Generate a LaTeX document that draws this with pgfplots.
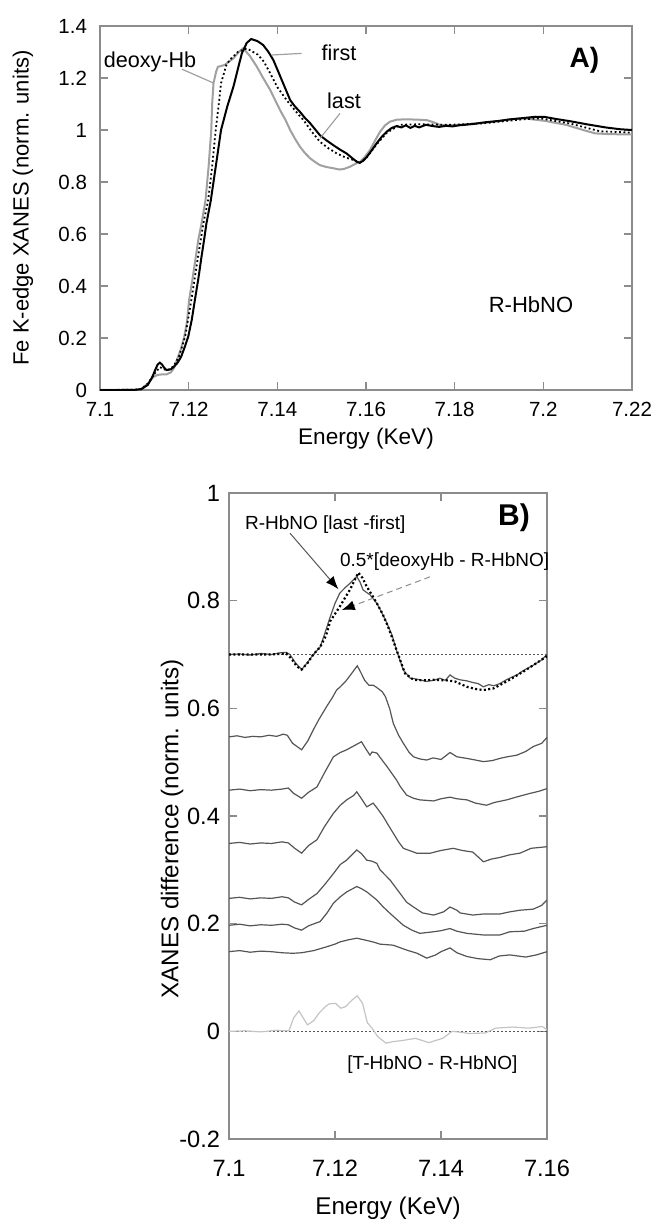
\documentclass[border=0pt]{standalone}
\usepackage{fontspec}
\setmainfont{Liberation Sans}
\usepackage{pgfplots}
\pgfplotsset{compat=1.18}
\usetikzlibrary{arrows.meta}

\definecolor{axgray}{HTML}{8C8C8C}
\definecolor{curvgray}{HTML}{A0A0A0}
\definecolor{diffgray}{HTML}{555555}
\definecolor{tgray}{HTML}{C4C4C4}

\pgfplotsset{
  xanes/.style={
    scale only axis,
    anchor=south west,
    axis line style={axgray, line width=0.7pt},
    tick style={axgray, line width=0.7pt},
    major tick length=4pt,
    tick align=inside,
  },
}

\begin{document}
\begin{tikzpicture}
\useasboundingbox (0,0) rectangle (328.5pt,-611pt);

% ---------------- panel A ----------------
\begin{axis}[xanes,
  at={(50pt,-195pt)}, width=266pt, height=182pt,
  xmin=7.1, xmax=7.22, ymin=0, ymax=1.4,
  xtick={7.1,7.12,7.14,7.16,7.18,7.2,7.22},
  xticklabels={7.1,7.12,7.14,7.16,7.18,7.2,7.22},
  ytick={0,0.2,0.4,0.6,0.8,1,1.2,1.4},
  yticklabels={0,0.2,0.4,0.6,0.8,1,1.2,1.4},
  ticklabel style={font=\fontsize{10.25}{12}\selectfont},
  xticklabel style={yshift=-2.5pt},
  yticklabel style={xshift=-3pt},
]
% deoxy-Hb
\addplot[curvgray, line width=1pt] coordinates {
(7.1000,0.000)(7.1080,0.001)(7.1093,0.004)(7.1108,0.025)(7.1120,0.050)
(7.1130,0.058)(7.1140,0.060)(7.1150,0.060)(7.1160,0.068)(7.1167,0.085)
(7.1176,0.128)(7.1183,0.16)(7.1190,0.205)(7.1196,0.26)(7.1201,0.346)
(7.1208,0.42)(7.1215,0.50)(7.1222,0.58)(7.1229,0.640)(7.1238,0.73)
(7.1245,0.86)(7.1251,1.0)(7.1253,1.10)(7.1256,1.18)(7.1262,1.225)
(7.1266,1.243)(7.1281,1.25)(7.1301,1.276)(7.1313,1.300)(7.1323,1.314)
(7.1338,1.285)(7.1354,1.243)(7.1368,1.200)(7.1384,1.154)(7.1395,1.115)
(7.1406,1.077)(7.1418,1.04)(7.1429,1.0)(7.1440,0.966)(7.1451,0.936)
(7.1462,0.912)(7.1474,0.891)(7.1486,0.876)(7.1496,0.865)(7.1510,0.858)
(7.1526,0.853)(7.1540,0.848)(7.1550,0.850)(7.1564,0.859)(7.1576,0.870)
(7.1587,0.878)(7.1598,0.898)(7.1609,0.923)(7.1620,0.958)(7.1632,0.994)
(7.1643,1.018)(7.1654,1.032)(7.1670,1.040)(7.1692,1.041)(7.1715,1.040)
(7.1737,1.038)(7.1752,1.030)(7.1767,1.019)(7.1790,1.018)(7.1812,1.020)
(7.1850,1.026)(7.1880,1.030)(7.1920,1.040)(7.1956,1.045)(7.2004,1.035)
(7.2051,1.020)(7.2090,1.000)(7.2117,0.987)(7.2150,0.984)(7.2200,0.983)
};
% first
\addplot[black, line width=1pt] coordinates {
(7.1000,0.000)(7.1050,0.000)(7.1080,0.001)(7.1093,0.003)(7.1108,0.02)
(7.1118,0.05)(7.1124,0.075)(7.1130,0.098)(7.1135,0.105)(7.1140,0.098)
(7.1145,0.085)(7.1150,0.077)(7.1160,0.080)(7.1167,0.090)(7.1175,0.105)
(7.1183,0.128)(7.1190,0.160)(7.1199,0.205)(7.1207,0.27)(7.1214,0.346)
(7.1222,0.43)(7.1229,0.513)(7.1235,0.58)(7.1240,0.640)(7.1250,0.73)
(7.1262,0.87)(7.1273,1.0)(7.1287,1.09)(7.1301,1.167)(7.1311,1.235)
(7.1320,1.295)(7.1331,1.335)(7.1341,1.350)(7.1355,1.342)(7.1368,1.327)
(7.1380,1.300)(7.1391,1.269)(7.1402,1.225)(7.1413,1.18)(7.1429,1.115)
(7.1440,1.09)(7.1451,1.07)(7.1462,1.047)(7.1474,1.026)(7.1485,1.003)
(7.1496,0.98)(7.1511,0.960)(7.1526,0.942)(7.1541,0.925)(7.1556,0.91)
(7.1568,0.893)(7.1579,0.878)(7.1586,0.874)(7.1594,0.882)(7.1602,0.897)
(7.1613,0.922)(7.1624,0.949)(7.1636,0.975)(7.1647,0.994)(7.1658,1.008)
(7.1669,1.015)(7.1680,1.010)(7.1690,1.018)(7.1700,1.008)(7.1710,1.016)
(7.1720,1.010)(7.1735,1.020)(7.1751,1.015)(7.1765,1.012)(7.1780,1.016)
(7.1795,1.014)(7.1810,1.018)(7.1841,1.023)(7.1870,1.030)(7.1900,1.035)
(7.1925,1.041)(7.1955,1.046)(7.1983,1.051)(7.2004,1.050)(7.2030,1.042)
(7.2060,1.034)(7.2098,1.022)(7.2140,1.010)(7.2173,1.003)(7.2200,1.000)
};
% last
\addplot[black, line width=0.9pt, dash pattern=on 0.9pt off 1.3pt] coordinates {
(7.1000,0.000)(7.1080,0.001)(7.1093,0.004)(7.1108,0.025)(7.1124,0.065)
(7.1135,0.088)(7.1145,0.080)(7.1150,0.075)(7.1160,0.082)(7.1167,0.095)
(7.1178,0.128)(7.1192,0.205)(7.1206,0.346)(7.1220,0.50)(7.1233,0.640)
(7.1244,0.73)(7.1253,0.86)(7.1261,1.0)(7.1268,1.10)(7.1273,1.18)
(7.1285,1.25)(7.1293,1.27)(7.1311,1.300)(7.1331,1.314)(7.1356,1.29)
(7.1370,1.262)(7.1384,1.218)(7.1400,1.165)(7.1421,1.115)(7.1440,1.075)
(7.1459,1.038)(7.1477,0.995)(7.1496,0.955)(7.1515,0.930)(7.1534,0.91)
(7.1553,0.895)(7.1571,0.885)(7.1586,0.874)(7.1602,0.895)(7.1624,0.945)
(7.1647,0.99)(7.1677,1.020)(7.1720,1.022)(7.1790,1.020)(7.1860,1.025)
(7.1947,1.040)(7.1993,1.045)(7.2060,1.025)(7.2128,0.995)(7.2200,0.990)
};
\end{axis}

% ---------------- panel B ----------------
\begin{axis}[xanes,
  at={(114.5pt,-569.5pt)}, width=159pt, height=323pt,
  xmin=7.1, xmax=7.16, ymin=-0.2, ymax=1,
  xtick={7.1,7.12,7.14,7.16},
  xticklabels={7.1,7.12,7.14,7.16},
  ytick={-0.2,0,0.2,0.4,0.6,0.8,1},
  yticklabels={-0.2,0,0.2,0.4,0.6,0.8,1},
  ticklabel style={font=\fontsize{11.8}{14}\selectfont},
  xticklabel style={yshift=-7pt},
  yticklabel style={xshift=-1pt},
]
% reference lines
\addplot[diffgray, line width=0.4pt, dash pattern=on 1pt off 1pt] coordinates {(7.1,0.7)(7.16,0.7)};
\addplot[diffgray, line width=0.4pt, dash pattern=on 1pt off 1pt] coordinates {(7.1,0)(7.16,0)};
% stacked differences
\addplot[diffgray, line width=0.6pt] coordinates {
(7.1000,0.547)(7.1015,0.549)(7.1030,0.546)(7.1045,0.548)(7.1060,0.547)(7.1075,0.550)
(7.1090,0.548)(7.1102,0.552)(7.1110,0.550)(7.1120,0.535)(7.1137,0.523)(7.1149,0.540)
(7.1159,0.560)(7.1170,0.580)(7.1184,0.603)(7.1195,0.620)(7.1203,0.634)(7.1210,0.640)
(7.1220,0.650)(7.1230,0.663)(7.1242,0.679)(7.1248,0.668)(7.1256,0.652)(7.1264,0.643)
(7.1272,0.643)(7.1277,0.640)(7.1289,0.631)(7.1295,0.622)(7.1303,0.600)(7.1310,0.572)
(7.1320,0.550)(7.1329,0.535)(7.1340,0.518)(7.1348,0.510)(7.1360,0.506)(7.1373,0.504)
(7.1385,0.508)(7.1400,0.505)(7.1417,0.518)(7.1430,0.510)(7.1449,0.507)(7.1465,0.504)
(7.1480,0.501)(7.1497,0.503)(7.1511,0.507)(7.1525,0.510)(7.1543,0.513)(7.1560,0.520)
(7.1574,0.529)(7.1590,0.535)(7.1600,0.546)
};
\addplot[diffgray, line width=0.6pt] coordinates {
(7.1000,0.448)(7.1020,0.450)(7.1040,0.447)(7.1060,0.449)(7.1080,0.448)(7.1100,0.450)
(7.1112,0.452)(7.1122,0.442)(7.1137,0.433)(7.1150,0.444)(7.1166,0.454)(7.1180,0.480)
(7.1197,0.510)(7.1210,0.518)(7.1222,0.523)(7.1235,0.530)(7.1250,0.538)(7.1258,0.525)
(7.1266,0.513)(7.1270,0.519)(7.1279,0.517)(7.1288,0.505)(7.1298,0.492)(7.1316,0.467)
(7.1323,0.455)(7.1335,0.439)(7.1348,0.433)(7.1360,0.430)(7.1386,0.428)(7.1400,0.432)
(7.1417,0.435)(7.1430,0.432)(7.1449,0.430)(7.1465,0.424)(7.1486,0.420)(7.1500,0.425)
(7.1524,0.430)(7.1545,0.436)(7.1568,0.442)(7.1585,0.446)(7.1600,0.451)
};
\addplot[diffgray, line width=0.6pt] coordinates {
(7.1000,0.349)(7.1020,0.351)(7.1040,0.348)(7.1060,0.350)(7.1080,0.349)(7.1100,0.352)
(7.1112,0.350)(7.1124,0.340)(7.1137,0.331)(7.1150,0.345)(7.1166,0.356)(7.1180,0.380)
(7.1197,0.405)(7.1210,0.420)(7.1222,0.430)(7.1235,0.438)(7.1241,0.445)(7.1250,0.432)
(7.1260,0.417)(7.1272,0.424)(7.1280,0.414)(7.1291,0.399)(7.1300,0.384)(7.1310,0.368)
(7.1320,0.352)(7.1329,0.340)(7.1354,0.331)(7.1380,0.331)(7.1400,0.336)(7.1423,0.340)
(7.1440,0.336)(7.1460,0.333)(7.1480,0.315)(7.1495,0.320)(7.1511,0.323)(7.1530,0.328)
(7.1549,0.331)(7.1570,0.340)(7.1600,0.343)
};
\addplot[diffgray, line width=0.6pt] coordinates {
(7.1000,0.247)(7.1020,0.249)(7.1040,0.246)(7.1060,0.248)(7.1080,0.247)(7.1100,0.250)
(7.1112,0.248)(7.1124,0.240)(7.1137,0.235)(7.1150,0.245)(7.1166,0.256)(7.1180,0.272)
(7.1197,0.293)(7.1210,0.310)(7.1222,0.318)(7.1232,0.328)(7.1241,0.337)(7.1250,0.330)
(7.1260,0.318)(7.1270,0.316)(7.1279,0.312)(7.1285,0.300)(7.1304,0.281)(7.1323,0.256)
(7.1335,0.240)(7.1348,0.231)(7.1365,0.220)(7.1386,0.216)(7.1405,0.222)(7.1417,0.231)
(7.1430,0.225)(7.1436,0.220)(7.1460,0.216)(7.1480,0.218)(7.1511,0.218)(7.1530,0.222)
(7.1549,0.225)(7.1574,0.227)(7.1590,0.234)(7.1600,0.244)
};
\addplot[diffgray, line width=0.6pt] coordinates {
(7.1000,0.197)(7.1020,0.199)(7.1040,0.196)(7.1060,0.198)(7.1080,0.197)(7.1100,0.199)
(7.1112,0.198)(7.1124,0.192)(7.1137,0.188)(7.1150,0.196)(7.1172,0.204)(7.1185,0.220)
(7.1197,0.238)(7.1210,0.250)(7.1222,0.259)(7.1241,0.269)(7.1250,0.265)(7.1260,0.259)
(7.1279,0.244)(7.1290,0.232)(7.1304,0.219)(7.1329,0.197)(7.1345,0.188)(7.1360,0.182)
(7.1386,0.185)(7.1400,0.187)(7.1417,0.191)(7.1430,0.186)(7.1449,0.182)(7.1470,0.180)
(7.1480,0.179)(7.1511,0.179)(7.1530,0.185)(7.1557,0.186)(7.1574,0.191)(7.1600,0.197)
};
\addplot[diffgray, line width=0.6pt] coordinates {
(7.1000,0.148)(7.1020,0.150)(7.1040,0.147)(7.1060,0.149)(7.1080,0.148)(7.1100,0.146)
(7.1120,0.145)(7.1137,0.146)(7.1160,0.150)(7.1184,0.157)(7.1200,0.162)(7.1209,0.166)
(7.1225,0.170)(7.1241,0.173)(7.1255,0.170)(7.1272,0.166)(7.1285,0.162)(7.1310,0.160)
(7.1335,0.151)(7.1355,0.145)(7.1373,0.136)(7.1390,0.142)(7.1400,0.148)(7.1417,0.155)
(7.1430,0.146)(7.1449,0.139)(7.1470,0.135)(7.1493,0.133)(7.1510,0.140)(7.1530,0.142)
(7.1560,0.138)(7.1580,0.142)(7.1600,0.148)
};
% T-HbNO - R-HbNO
\addplot[tgray, line width=0.6pt] coordinates {
(7.1000,0.000)(7.1030,0.001)(7.1060,-0.001)(7.1090,0.002)(7.1105,0.001)(7.1113,0.001)
(7.1122,0.025)(7.1132,0.038)(7.1140,0.025)(7.1148,0.012)(7.1160,0.020)(7.1170,0.034)
(7.1182,0.046)(7.1189,0.051)(7.1201,0.052)(7.1211,0.043)(7.1220,0.046)(7.1232,0.058)
(7.1242,0.066)(7.1252,0.052)(7.1261,0.016)(7.1270,0.006)(7.1280,-0.009)(7.1296,-0.022)
(7.1310,-0.019)(7.1327,-0.017)(7.1352,-0.013)(7.1377,-0.021)(7.1403,-0.013)(7.1421,0.000)
(7.1440,-0.002)(7.1453,-0.004)(7.1484,-0.003)(7.1503,0.006)(7.1535,0.008)(7.1566,0.006)
(7.1591,0.009)(7.1600,0.003)
};
% R-HbNO [last - first]
\addplot[diffgray, line width=0.6pt] coordinates {
(7.1000,0.700)(7.1020,0.701)(7.1040,0.699)(7.1060,0.702)(7.1080,0.700)(7.1095,0.703)
(7.1108,0.704)(7.1115,0.700)(7.1125,0.685)(7.1137,0.672)(7.1148,0.685)(7.1159,0.700)
(7.1172,0.714)(7.1181,0.740)(7.1191,0.770)(7.1200,0.795)(7.1209,0.814)(7.1220,0.825)
(7.1228,0.832)(7.1241,0.845)(7.1247,0.835)(7.1253,0.820)(7.1260,0.815)(7.1266,0.811)
(7.1279,0.795)(7.1288,0.778)(7.1298,0.758)(7.1308,0.735)(7.1316,0.708)(7.1329,0.671)
(7.1342,0.656)(7.1350,0.655)(7.1360,0.653)(7.1372,0.650)(7.1386,0.652)(7.1398,0.656)
(7.1408,0.652)(7.1417,0.662)(7.1426,0.656)(7.1436,0.653)(7.1449,0.651)(7.1460,0.648)
(7.1470,0.646)(7.1480,0.640)(7.1490,0.644)(7.1500,0.642)(7.1511,0.646)(7.1525,0.654)
(7.1543,0.662)(7.1555,0.670)(7.1574,0.680)(7.1590,0.690)(7.1600,0.700)
};
% 0.5*[deoxyHb - R-HbNO]
\addplot[black, line width=1.1pt, dash pattern=on 1pt off 1.2pt] coordinates {
(7.1000,0.700)(7.1040,0.700)(7.1080,0.700)(7.1108,0.702)(7.1118,0.692)(7.1128,0.678)
(7.1137,0.672)(7.1148,0.684)(7.1159,0.700)(7.1172,0.714)(7.1183,0.735)(7.1191,0.762)
(7.1209,0.789)(7.1228,0.820)(7.1244,0.852)(7.1252,0.842)(7.1260,0.826)(7.1270,0.810)
(7.1279,0.795)(7.1290,0.775)(7.1300,0.752)(7.1310,0.725)(7.1320,0.698)(7.1332,0.665)
(7.1348,0.653)(7.1370,0.652)(7.1386,0.653)(7.1410,0.652)(7.1426,0.650)(7.1449,0.640)
(7.1465,0.636)(7.1480,0.634)(7.1499,0.637)(7.1524,0.650)(7.1555,0.668)(7.1580,0.684)
(7.1600,0.697)
};
\end{axis}

% ---------------- labels and annotations ----------------
\node[rotate=90, font=\fontsize{11}{13}\selectfont] at (11.5pt,-104pt) {Fe K-edge XANES (norm. units)};
\node[font=\fontsize{11.3}{13}\selectfont] at (183pt,-219.5pt) {Energy (KeV)};
\node[font=\fontsize{10.8}{13}\selectfont] at (75pt,-31pt) {deoxy-Hb};
\draw[curvgray, line width=0.6pt] (91pt,-34.6pt) -- (106.5pt,-41.4pt);
\node[font=\fontsize{10.8}{13}\selectfont] at (169.5pt,-26.5pt) {first};
\draw[curvgray, line width=0.6pt] (150.8pt,-26.7pt) -- (135.8pt,-27.5pt);
\node[font=\fontsize{10.8}{13}\selectfont] at (172pt,-50.5pt) {last};
\draw[curvgray, line width=0.6pt] (170pt,-56.7pt) -- (160pt,-69.2pt);
\node[font=\fontsize{14}{16}\selectfont\bfseries] at (292.2pt,-30pt) {A)};
\node[font=\fontsize{11}{13}\selectfont] at (265.5pt,-152.5pt) {R-HbNO};

\node[rotate=90, font=\fontsize{12.1}{14}\selectfont] at (86pt,-414.5pt) {XANES difference (norm. units)};
\node[font=\fontsize{12.1}{14}\selectfont] at (194pt,-604pt) {Energy (KeV)};
\node[font=\fontsize{15}{17}\selectfont\bfseries] at (257pt,-259pt) {B)};
\node[anchor=west, font=\fontsize{9.5}{11}\selectfont] at (119pt,-262.5pt) {R-HbNO [last -first]};
\draw[diffgray, line width=0.5pt, -{Latex[black, length=6.5pt, width=5pt]}] (145pt,-266.6pt) -- (169.2pt,-294.6pt);
\node[anchor=west, font=\fontsize{9.5}{11}\selectfont] at (166.5pt,-281pt) {0.5*[deoxyHb - R-HbNO]};
\draw[axgray, line width=0.5pt, dash pattern=on 3pt off 2pt, -{Latex[black, length=6.5pt, width=5pt]}] (215pt,-288.4pt) -- (170.9pt,-305pt);
\node[font=\fontsize{9.5}{11}\selectfont] at (216.2pt,-532.5pt) {[T-HbNO - R-HbNO]};
\end{tikzpicture}
\end{document}
